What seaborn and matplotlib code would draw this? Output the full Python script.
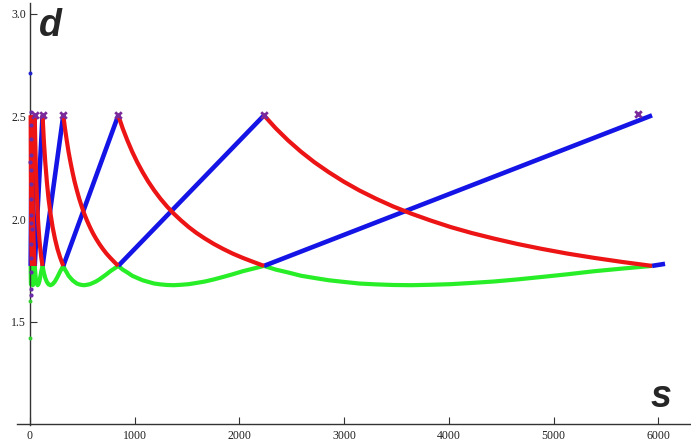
import numpy as np
import pandas as pd
import matplotlib
matplotlib.use("Agg")
import matplotlib.pyplot as plt
from matplotlib.ticker import FixedLocator
import seaborn as sns

# ---- data ----
# segment boundaries along s (each blue / red / green piece spans one interval)
seg_bounds = [6.4, 17, 45, 120, 318, 843, 2235, 5941]
blue_low, blue_high = 1.772, 2.505

# s samples inside each interval (start -> end)
seg_s = {
    6.4: [6.4, 7.7, 9.3, 11.2, 13.5, 17],
    17: [17, 19, 21, 23, 25, 28, 31, 34, 37, 41, 45],
    45: [45, 50, 55, 60, 67, 73, 81, 89, 98, 108, 120],
    120: [120, 132, 146, 161, 177, 196, 216, 238, 262, 289, 318],
    318: [318, 334, 351, 368, 387, 406, 426, 448, 470, 494, 518,
          544, 572, 600, 630, 662, 695, 730, 767, 805, 843],
    843: [843, 885, 930, 976, 1025, 1076, 1130, 1187, 1246, 1309, 1374,
          1443, 1516, 1591, 1671, 1755, 1843, 1935, 2032, 2134, 2235],
    2235: [2235, 2347, 2465, 2588, 2718, 2854, 2997, 3147, 3305, 3470, 3644,
           3826, 4018, 4219, 4431, 4653, 4886, 5131, 5388, 5658, 5941],
}
red_d21 = [2.505, 2.442, 2.383, 2.328, 2.276, 2.228, 2.182, 2.139, 2.099, 2.061, 2.026,
           1.993, 1.961, 1.932, 1.905, 1.879, 1.855, 1.832, 1.811, 1.791, 1.772]
green_d21 = [1.772, 1.754, 1.740, 1.724, 1.713, 1.702, 1.694, 1.686, 1.682, 1.679, 1.678,
             1.680, 1.683, 1.689, 1.696, 1.706, 1.718, 1.731, 1.746, 1.759, 1.772]
red_d11 = [2.505, 2.383, 2.276, 2.182, 2.099, 2.026, 1.961, 1.905, 1.855, 1.811, 1.772]
green_d11 = [1.772, 1.740, 1.713, 1.694, 1.682, 1.678, 1.683, 1.696, 1.718, 1.746, 1.772]
red_d6 = [2.505, 2.276, 2.099, 1.961, 1.855, 1.772]
green_d6 = [1.772, 1.713, 1.682, 1.683, 1.718, 1.772]

blue_tail_s = [5941, 6065]
blue_tail_d = [1.772, 1.782]

# early scattered points hugging the d-axis
dots_s = [8, 12, 10, 14, 9, 11, 13, 7, 15, 10, 12, 9, 6, 11, 4, 5]
dots_d = [2.52, 2.46, 2.39, 2.31, 2.24, 2.17, 2.10, 2.02, 1.95, 1.88, 1.81, 1.74, 1.66, 1.63,
          2.28, 1.98]
blue_dot_s, blue_dot_d = [2], [2.71]
green_dot_s, green_dot_d = [2, 2], [1.60, 1.42]

peak_s = [45, 120, 318, 843, 2235, 5807]
peak_d = [2.505, 2.505, 2.505, 2.505, 2.505, 2.51]

x_ticks = [0, 1000, 2000, 3000, 4000, 5000, 6000]
y_ticks = [1.5, 2.0, 2.5, 3.0]

# ---- build long table ----
curves = {21: (red_d21, green_d21), 11: (red_d11, green_d11), 6: (red_d6, green_d6)}
rows = []
for i, s0 in enumerate(seg_bounds[:-1]):
    s1 = seg_bounds[i + 1]
    rows.append(("blue", f"b{i}", s0, blue_low))
    rows.append(("blue", f"b{i}", s1, blue_high))
    ss = seg_s[s0]
    rd, gd = curves[len(ss)]
    for s, r, g in zip(ss, rd, gd):
        rows.append(("red", f"r{i}", s, r))
        rows.append(("green", f"g{i}", s, g))
for s, d in zip(blue_tail_s, blue_tail_d):
    rows.append(("blue", "btail", s, d))
df = pd.DataFrame(rows, columns=["series", "seg", "s", "d"])

sns.set_style("white")
plt.rcParams["font.family"] = ["Liberation Serif", "DejaVu Serif"]

fig = plt.figure(figsize=(6.91, 4.44), dpi=100)
ax = fig.add_axes([0, 0, 1, 1])

palette = {"blue": "#1414e6", "red": "#ec1414", "green": "#28ee28"}
for name, lw, z in [("green", 3.0, 2), ("blue", 3.3, 3), ("red", 3.0, 4)]:
    sub = df[df.series == name]
    sns.lineplot(data=sub, x="s", y="d", units="seg", estimator=None, sort=False,
                 color=palette[name], linewidth=lw, ax=ax, legend=False, zorder=z,
                 solid_capstyle="butt")

sns.scatterplot(x=dots_s, y=dots_d, color="#6a2aa8", s=9, linewidth=0, ax=ax, zorder=5)
sns.scatterplot(x=blue_dot_s, y=blue_dot_d, color="#2020d0", s=8, linewidth=0, ax=ax, zorder=5)
sns.scatterplot(x=green_dot_s, y=green_dot_d, color="#30d030", s=8, linewidth=0, ax=ax, zorder=5)
sns.scatterplot(x=peak_s, y=peak_d, color="#7a2a9a", marker="x", s=22, linewidth=2, ax=ax, zorder=6)

ax.set_xlim(-286.5, 6313)
ax.set_ylim(0.9047, 3.0667)
ax.set_xlabel("")
ax.set_ylabel("")

for side in ["top", "right"]:
    ax.spines[side].set_visible(False)
ax.spines["left"].set_position(("data", 0))
ax.spines["bottom"].set_position(("data", 1.0))
ax.spines["bottom"].set_bounds(-124, 6313)
ax.spines["left"].set_bounds(0.995, 3.05)
for side in ["left", "bottom"]:
    ax.spines[side].set_color("#333333")
    ax.spines[side].set_linewidth(1.0)

ax.xaxis.set_major_locator(FixedLocator(x_ticks))
ax.xaxis.set_minor_locator(FixedLocator([v for v in range(200, 6400, 200) if v % 1000]))
ax.yaxis.set_major_locator(FixedLocator(y_ticks))
ax.yaxis.set_minor_locator(FixedLocator([round(1.1 + 0.1 * k, 1) for k in range(20)
                                         if round(1.1 + 0.1 * k, 1) not in (1.5, 2.0, 2.5, 3.0)]))
ax.set_xticklabels([str(v) for v in x_ticks])
ax.set_yticklabels([f"{v:.1f}" for v in y_ticks])
ax.tick_params(which="both", direction="in", color="#333333", width=0.8, labelsize=8.6,
               labelcolor="#222222")
ax.tick_params(which="major", length=5)
ax.tick_params(which="minor", length=3)
ax.tick_params(axis="x", which="major", pad=4, bottom=True)
ax.tick_params(axis="y", which="major", pad=3, left=True)

fig.text(50 / 691, 1 - 36 / 444, "d", ha="center", va="baseline", fontsize=27,
         fontweight="bold", style="italic", family=["Liberation Sans", "DejaVu Sans"])
fig.text(661 / 691, 1 - 407 / 444, "s", ha="center", va="baseline", fontsize=27,
         fontweight="bold", style="italic", family=["Liberation Sans", "DejaVu Sans"])

fig.savefig("out.png", dpi=100)
